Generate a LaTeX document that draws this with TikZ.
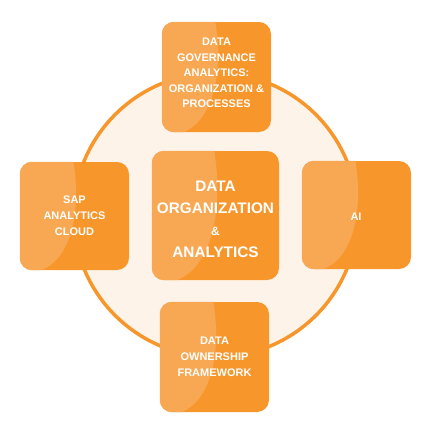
\documentclass[tikz,border=0pt]{standalone}
\usepackage{fontspec}
\setmainfont{Liberation Sans}
\definecolor{orangeD}{HTML}{F7962B}
\definecolor{orangeL}{HTML}{F8A853}
\definecolor{cream}{HTML}{FDF3E9}
\tikzset{
  tile/.style={fill=orangeD, rounded corners=12pt, inner sep=0pt},
  label/.style={text=white, font=\bfseries\fontsize{11}{15.5}\selectfont, align=center, inner sep=0pt},
}
\newcommand\tilebox[5]{%
  \node[tile, minimum width=#4pt, minimum height=#5pt] (#1) at (#2,#3) {};
  \begin{scope}
    \clip[rounded corners=12pt] (#1.south west) rectangle (#1.north east);
    \fill[orangeL] ({#2-#4/2+0.49*#4},{#3-#5/2})
      .. controls ({#2-#4/2+0.57*#4},{#3}) and ({#2-#4/2+0.45*#4},{#3+0.4*#5})
      .. ({#2-#4/2+0.2*#4},{#3+#5/2})
      -- ({#2-#4/2-2},{#3+#5/2+2}) -- ({#2-#4/2-2},{#3-#5/2-2}) -- cycle;
  \end{scope}}
\begin{document}
\begin{tikzpicture}[x=1pt,y=-1pt]
\useasboundingbox (0,0) rectangle (431,431);
\node[draw=orangeD, fill=cream, line width=3.5pt, circle, minimum size=284pt, inner sep=0pt] (ring) at (215.5,215) {};
\tilebox{topbox}{216.5}{77}{109}{110}
\tilebox{centerbox}{215.5}{215.5}{127}{129}
\tilebox{leftbox}{74.5}{216}{109}{108}
\tilebox{rightbox}{356.5}{215}{109}{108}
\tilebox{bottombox}{214.5}{357}{109}{110}
\node[label] (toptext) at (216.5,73) {DATA\\GOVERNANCE\\ANALYTICS:\\ORGANIZATION \&\\PROCESSES};
\node[label, font=\bfseries\fontsize{15.3}{22}\selectfont] (centertext) at (215.5,219) {DATA\\ORGANIZATION\\{\fontsize{12}{22}\selectfont\&}\\ANALYTICS};
\node[label, font=\bfseries\fontsize{11}{16}\selectfont] (lefttext) at (74.5,216) {SAP\\ANALYTICS\\CLOUD};
\node[label] (righttext) at (356,217) {AI};
\node[label, font=\bfseries\fontsize{11}{16}\selectfont] (bottomtext) at (214.5,357) {DATA\\OWNERSHIP\\FRAMEWORK};
\end{tikzpicture}
\end{document}
